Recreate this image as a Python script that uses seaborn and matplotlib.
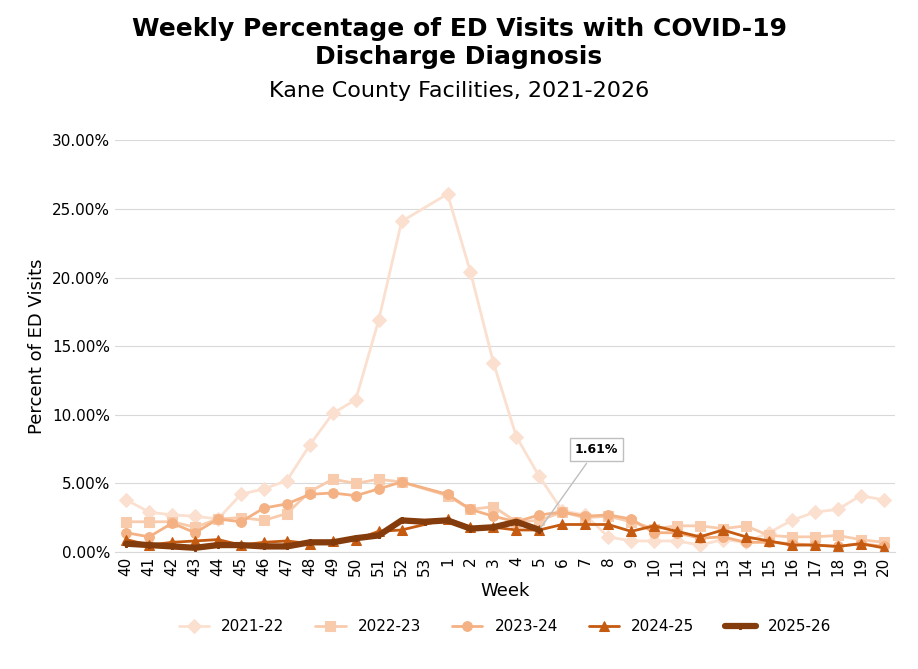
import numpy as np
import pandas as pd
import matplotlib
matplotlib.use("Agg")
import matplotlib.pyplot as plt
import seaborn as sns

weeks = [str(w) for w in list(range(40, 54)) + list(range(1, 21))]
nan = np.nan
s2122 = [3.8, 2.9, 2.7, 2.6, 2.4, 4.2, 4.6, 5.2, 7.8, 10.1, 11.1, 16.9, 24.1, nan, 26.1, 20.4, 13.8, 8.4, 5.5, 3.0,
         2.7, 1.1, 0.8, 0.8, 0.8, 0.5, 0.9, 0.7, 1.4, 2.3, 2.9, 3.1, 4.1, 3.8]
s2223 = [2.2, 2.2, 2.2, 1.8, 2.4, 2.5, 2.3, 2.8, 4.4, 5.3, 5.0, 5.3, 5.1, nan, 4.1, 3.1, 3.3, 2.2, 2.3, 2.9,
         2.5, 2.6, 2.2, 1.7, 1.9, 1.9, 1.7, 1.9, 1.2, 1.1, 1.1, 1.2, 0.9, 0.7]
s2324 = [1.4, 1.1, 2.1, 1.4, 2.4, 2.2, 3.2, 3.5, 4.2, 4.3, 4.1, 4.6, 5.1, nan, 4.2, 3.1, 2.6, 2.2, 2.7, 2.9,
         2.6, 2.7, 2.4, 1.4, 1.4, 1.0, 1.1, 0.7, 0.7, 0.6, 0.5, 0.4, 0.6, 0.4]
s2425 = [0.9, 0.5, 0.7, 0.8, 0.9, 0.5, 0.7, 0.8, 0.6, 0.8, 0.9, 1.5, 1.6, nan, 2.4, 1.8, 1.8, 1.6, 1.6, 2.0,
         2.0, 2.0, 1.5, 1.9, 1.5, 1.1, 1.6, 1.1, 0.8, 0.5, 0.5, 0.4, 0.6, 0.3]
s2526 = [0.6, 0.5, 0.4, 0.3, 0.5, 0.5, 0.4, 0.4, 0.7, 0.7, 1.0, 1.2, 2.3, 2.2, 2.3, 1.7, 1.8, 2.2, 1.61] + [nan] * 15

seasons = ["2021-22", "2022-23", "2023-24", "2024-25", "2025-26"]
values = [s2122, s2223, s2324, s2425, s2526]
colors = ["#FBE0D0", "#F8CBAD", "#F4B183", "#C55A11", "#843C0C"]
markers = ["D", "s", "o", "^", "P"]
widths = [2, 2, 2, 2, 4.5]

rows = []
for season, vals in zip(seasons, values):
    for i, v in enumerate(vals):
        rows.append({"pos": i, "season": season, "pct": v})
df = pd.DataFrame(rows).dropna()

sns.set_style("white")
plt.rcParams["font.family"] = ["DejaVu Sans"]
plt.rcParams["text.color"] = "black"
plt.rcParams["axes.labelcolor"] = "black"
plt.rcParams["xtick.color"] = "black"
plt.rcParams["ytick.color"] = "black"
fig, ax = plt.subplots(figsize=(9.18, 6.69), dpi=100)

for season, col, mk, lw in zip(seasons, colors, markers, widths):
    sub = df[df["season"] == season]
    sns.lineplot(data=sub, x="pos", y="pct", color=col, marker=mk, markersize=7 if lw < 3 else 5,
                 markeredgecolor=col, linewidth=lw, label=season, ax=ax)

ax.set_xlim(-0.5, len(weeks) - 0.5)
ax.set_ylim(0, 30)
ax.set_xticks(range(len(weeks)))
ax.set_xticklabels(weeks, rotation=90, fontsize=11)
ax.set_yticks(np.arange(0, 31, 5))
ax.set_yticklabels([f"{v:.2f}%" for v in np.arange(0, 31, 5)], fontsize=11)
ax.tick_params(length=0)
ax.yaxis.grid(True, color="#D9D9D9")
for s in ["top", "right", "left"]:
    ax.spines[s].set_visible(False)
ax.spines["bottom"].set_color("#D9D9D9")
ax.set_xlabel("Week", fontsize=13)
ax.set_ylabel("Percent of ED Visits", fontsize=13)

last = 18
ax.annotate("1.61%", xy=(last, 1.61), xytext=(last + 2.5, 7.5), fontsize=9, fontweight="bold",
            ha="center", va="center",
            bbox=dict(boxstyle="square,pad=0.4", fc="white", ec="#BFBFBF"),
            arrowprops=dict(arrowstyle="-", color="#BFBFBF"))

ax.legend(loc="upper center", bbox_to_anchor=(0.5, -0.13), ncol=5, frameon=False, fontsize=11)
fig.suptitle("Weekly Percentage of ED Visits with COVID-19\nDischarge Diagnosis",
             fontsize=18, fontweight="bold", y=0.975, color="black")
fig.text(0.5, 0.855, "Kane County Facilities, 2021-2026", ha="center", fontsize=16)
fig.subplots_adjust(left=0.125, right=0.975, top=0.79, bottom=0.175)
fig.savefig("out.png")
